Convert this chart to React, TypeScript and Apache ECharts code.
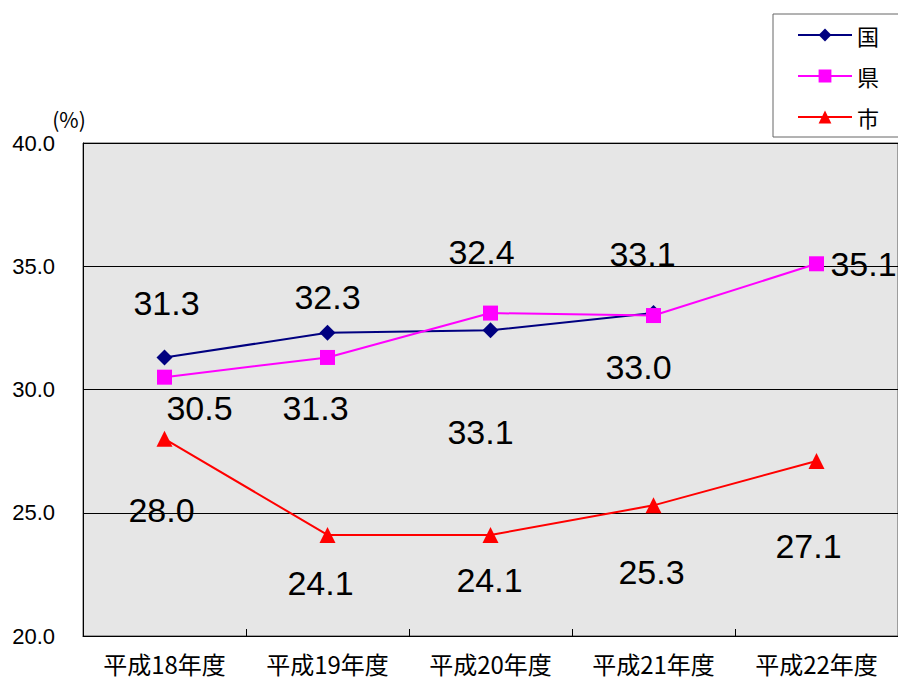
import React, { useEffect, useRef } from "react";
import * as echarts from "echarts";

const categories = ["平成18年度", "平成19年度", "平成20年度", "平成21年度", "平成22年度"];
const kuniValues = [31.3, 32.3, 32.4, 33.1];
const kenValues = [30.5, 31.3, 33.1, 33.0, 35.1];
const shiValues = [28.0, 24.1, 24.1, 25.3, 27.1];
const yTicks = [20, 25, 30, 35, 40];
const yUnit = "(%)";

// label offsets (px) relative to each point
const kuniOffsets = [[2, -54], [0, -36], [-9, -78], [-11, -59]];
const kenOffsets = [[35, 31], [-12, 51], [-10, 119], [-15, 51], [47, 0]];
const shiOffsets = [[-3, 71], [-7, 48], [-1, 45], [-2, 67], [-8, 85]];

const NUM_FONT = "'Liberation Sans', Arial, sans-serif";
const JP_FONT = "'Noto Sans CJK JP', sans-serif";

function withLabels(values: number[], offsets: number[][]) {
  return values.map((v, i) => ({
    value: v,
    label: { offset: offsets[i] },
  }));
}

export default function App() {
  const ref = useRef<HTMLDivElement>(null);
  useEffect(() => {
    document.body.style.margin = "0";
    const chart = echarts.init(ref.current!, null, { renderer: "svg" });
    const labelBase = {
      show: true,
      position: "inside",
      color: "#000",
      fontSize: 34,
      fontFamily: NUM_FONT,
      formatter: (p: any) => Number(p.value).toFixed(1),
    };
    chart.setOption({
      animation: false,
      backgroundColor: "#fff",
      grid: {
        left: 83,
        right: 0,
        top: 143,
        bottom: 45,
        show: true,
        backgroundColor: "#e6e6e6",
        borderColor: "#555",
        borderWidth: 1,
      },
      legend: {
        left: 773,
        top: 14,
        orient: "vertical",
        backgroundColor: "#fff",
        borderColor: "#666",
        borderWidth: 1,
        padding: [10, 20, 9, 24],
        itemGap: 19,
        itemWidth: 54,
        itemHeight: 16,
        textStyle: { fontSize: 22, fontFamily: JP_FONT, color: "#000" },
        data: ["国", "県", "市"],
      },
      xAxis: {
        type: "category",
        data: categories,
        boundaryGap: true,
        axisLine: { show: true, lineStyle: { color: "#000", width: 1 } },
        axisTick: { show: true, inside: true, length: 7, lineStyle: { color: "#000" } },
        axisLabel: {
          interval: 0,
          fontSize: 24,
          lineHeight: 26,
          fontFamily: JP_FONT,
          color: "#000",
          margin: 14,
        },
        splitLine: { show: false },
      },
      yAxis: {
        type: "value",
        min: yTicks[0],
        max: yTicks[yTicks.length - 1],
        interval: 5,
        name: yUnit,
        nameLocation: "end",
        nameGap: 14,
        nameTextStyle: {
          fontSize: 21,
          fontFamily: JP_FONT,
          color: "#000",
          align: "center",
          padding: [0, 28, 0, 0],
        },
        axisLine: { show: true, lineStyle: { color: "#000", width: 1 } },
        axisTick: { show: false },
        axisLabel: {
          fontSize: 22,
          fontFamily: NUM_FONT,
          color: "#000",
          margin: 28,
          formatter: (v: number) => v.toFixed(1),
        },
        splitLine: { show: true, lineStyle: { color: "#000", width: 1 } },
      },
      series: [
        {
          name: "国",
          type: "line",
          data: withLabels(kuniValues, kuniOffsets),
          symbol: "diamond",
          symbolSize: 16,
          itemStyle: { color: "#000080" },
          lineStyle: { color: "#000080", width: 2 },
          label: labelBase,
          z: 3,
        },
        {
          name: "県",
          type: "line",
          data: withLabels(kenValues, kenOffsets),
          symbol: "rect",
          symbolSize: 15,
          itemStyle: { color: "#ff00ff" },
          lineStyle: { color: "#ff00ff", width: 2 },
          label: labelBase,
          z: 4,
        },
        {
          name: "市",
          type: "line",
          data: withLabels(shiValues, shiOffsets),
          symbol: "triangle",
          symbolSize: 16,
          itemStyle: { color: "#ff0000" },
          lineStyle: { color: "#ff0000", width: 2 },
          label: labelBase,
          z: 3,
        },
      ],
    });
    return () => chart.dispose();
  }, []);
  return <div ref={ref} style={{ width: 898, height: 681 }} />;
}
